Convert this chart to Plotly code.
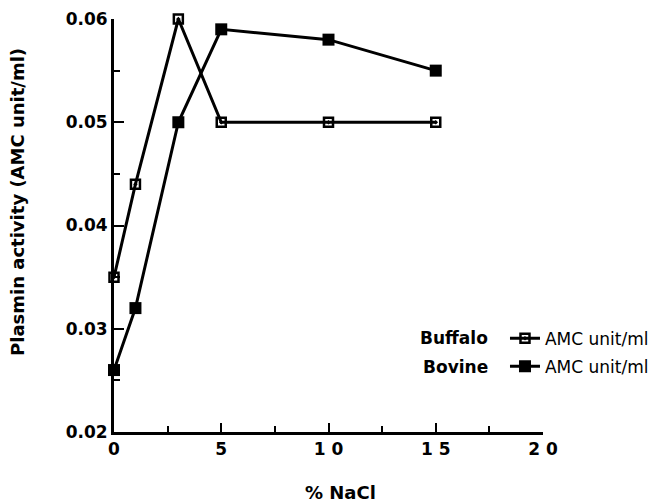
import plotly.graph_objects as go

nacl = [0, 1, 3, 5, 10, 15]
buffalo = [0.035, 0.044, 0.060, 0.050, 0.050, 0.050]
bovine = [0.026, 0.032, 0.050, 0.059, 0.058, 0.055]
x_tickvals = [0, 5, 10, 15, 20]
x_ticktext = ["0", "5", "1 0", "1 5", "2 0"]
y_tickvals = [0.02, 0.03, 0.04, 0.05, 0.06]
y_ticktext = ["0.02", "0.03", "0.04", "0.05", "0.06"]

BOLD = "DejaVu Sans, Liberation Sans, sans-serif"

fig = go.Figure()
fig.add_trace(go.Scatter(
    x=nacl, y=buffalo, mode="lines+markers", name="AMC unit/ml",
    legendgroup="buf",
    line=dict(color="black", width=3),
    marker=dict(symbol="square-open-dot", size=9, color="black",
                line=dict(color="black", width=2.5)),
    cliponaxis=False,
))
fig.add_trace(go.Scatter(
    x=nacl, y=bovine, mode="lines+markers", name="AMC unit/ml",
    legendgroup="bov",
    line=dict(color="black", width=3),
    marker=dict(symbol="square", size=12, color="black"),
    cliponaxis=False,
))

fig.update_layout(
    width=649, height=494,
    margin=dict(l=106, r=114, t=11, b=70, autoexpand=False),
    paper_bgcolor="white", plot_bgcolor="white",
    font=dict(family=BOLD, color="black"),
    showlegend=True,
    legend=dict(x=0.9114, y=0.2695, xanchor="left", yanchor="top",
                font=dict(size=17, family=BOLD), bgcolor="rgba(0,0,0,0)",
                itemwidth=30, tracegroupgap=3, borderwidth=0),
    xaxis=dict(range=[0, 20], showgrid=False, zeroline=False, automargin=False,
               showline=True, linewidth=3, linecolor="black",
               ticks="inside", ticklen=9, tickwidth=2, tickcolor="black",
               tickvals=x_tickvals, ticktext=x_ticktext,
               ticklabeloverflow="allow",
               tickfont=dict(size=17, weight="bold", family=BOLD),
               minor=dict(tickvals=[2.5, 7.5, 12.5, 17.5], ticks="inside",
                          ticklen=6, tickwidth=2, tickcolor="black")),
    yaxis=dict(range=[0.02, 0.06], showgrid=False, zeroline=False, automargin=False,
               showline=True, linewidth=3, linecolor="black",
               ticks="inside", ticklen=10, tickwidth=2, tickcolor="black",
               tickvals=y_tickvals, ticktext=y_ticktext,
               ticklabeloverflow="allow",
               tickfont=dict(size=17, weight="bold", family=BOLD),
               minor=dict(tickvals=[0.025, 0.035, 0.045, 0.055], ticks="inside",
                          ticklen=6, tickwidth=2, tickcolor="black")),
    annotations=[
        dict(text="Plasmin activity (AMC unit/ml)", textangle=-90,
             xref="paper", yref="paper", x=-0.2238, y=0.557, showarrow=False,
             xanchor="center", yanchor="middle",
             font=dict(size=18, weight="bold", family=BOLD)),
        dict(text="% NaCl", xref="paper", yref="paper", x=0.527, y=-0.1453,
             showarrow=False, xanchor="center", yanchor="middle",
             font=dict(size=18, weight="bold", family=BOLD)),
        dict(text="Buffalo", xref="paper", yref="paper", x=0.8765, y=0.2276,
             showarrow=False, xanchor="right", yanchor="middle",
             font=dict(size=17, weight="bold", family=BOLD)),
        dict(text="Bovine", xref="paper", yref="paper", x=0.8765, y=0.1574,
             showarrow=False, xanchor="right", yanchor="middle",
             font=dict(size=17, weight="bold", family=BOLD)),
    ],
)

fig.write_html("out.html")
